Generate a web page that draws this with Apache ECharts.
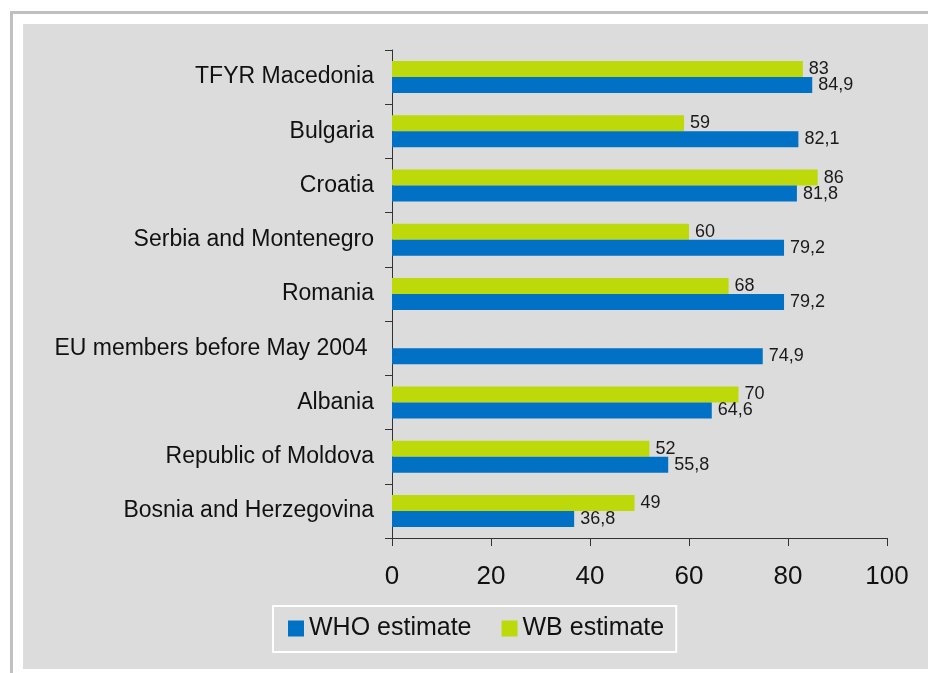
<!DOCTYPE html>
<html>
<head>
<meta charset="utf-8">
<script src="https://cdn.jsdelivr.net/npm/echarts@6/dist/echarts.min.js"></script>
<style>
  html, body { margin: 0; padding: 0; background: #ffffff; }
  #chart { width: 928px; height: 673px; }
</style>
</head>
<body>
<div id="chart"></div>
<script>
// Categories listed bottom to top (category axis starts at the bottom)
const countries = [
  'Bosnia and Herzegovina',
  'Republic of Moldova',
  'Albania',
  'EU members before May 2004 ',
  'Romania',
  'Serbia and Montenegro',
  'Croatia',
  'Bulgaria',
  'TFYR Macedonia'
];
const whoEstimate = [36.8, 55.8, 64.6, 74.9, 79.2, 79.2, 81.8, 82.1, 84.9];
const wbEstimate = [49, 52, 70, null, 68, 60, 86, 59, 83];
const xTicks = { min: 0, max: 100, interval: 20 };

const BLUE = '#0071C5';
const GREEN = '#BDD90A';
const FONT = '"Liberation Sans", Arial, sans-serif';

const chart = echarts.init(document.getElementById('chart'), null, { renderer: 'canvas' });

const valueLabel = {
  show: true,
  position: 'right',
  distance: 6,
  fontFamily: FONT,
  fontSize: 18,
  color: '#1a1a1a',
  formatter: p => (p.value == null ? '' : String(p.value).replace('.', ','))
};

chart.setOption({
  backgroundColor: '#ffffff',
  animation: false,
  textStyle: { fontFamily: FONT },
  graphic: [
    // grey panel behind the chart
    { type: 'rect', z: -10, silent: true,
      shape: { x: 23, y: 24, width: 905, height: 645 },
      style: { fill: '#dcdcdc' } },
    // frame lines
    { type: 'rect', z: -10, silent: true,
      shape: { x: 10, y: 11, width: 918, height: 3 },
      style: { fill: '#c0c0c0' } },
    { type: 'rect', z: -10, silent: true,
      shape: { x: 10, y: 11, width: 3, height: 662 },
      style: { fill: '#c0c0c0' } }
  ],
  legend: {
    data: ['WHO estimate', 'WB estimate'],
    left: 273,
    top: 606,
    orient: 'horizontal',
    itemWidth: 16,
    itemHeight: 16,
    itemGap: 30,
    padding: [10, 12, 11, 15],
    borderColor: '#ffffff',
    borderWidth: 2,
    icon: 'rect',
    textStyle: { fontFamily: FONT, fontSize: 25, color: '#111111' }
  },
  grid: { left: 392, right: 41, top: 50, bottom: 135, containLabel: false },
  xAxis: {
    type: 'value',
    min: xTicks.min,
    max: xTicks.max,
    interval: xTicks.interval,
    axisLine: { show: true, lineStyle: { color: '#333333', width: 1 } },
    axisTick: { show: true, length: 8, lineStyle: { color: '#333333' } },
    splitLine: { show: false },
    axisLabel: { fontFamily: FONT, fontSize: 26, color: '#111111', margin: 26 }
  },
  yAxis: {
    type: 'category',
    data: countries,
    axisLine: { show: true, lineStyle: { color: '#333333', width: 1 } },
    axisTick: { show: true, length: 7, lineStyle: { color: '#333333' } },
    axisLabel: { fontFamily: FONT, fontSize: 23, color: '#111111', margin: 18 }
  },
  series: [
    {
      name: 'WB estimate',
      type: 'bar',
      data: wbEstimate,
      itemStyle: { color: GREEN },
      barGap: '0%',
      barCategoryGap: '41%',
      label: valueLabel
    },
    {
      name: 'WHO estimate',
      type: 'bar',
      data: whoEstimate,
      itemStyle: { color: BLUE },
      barGap: '0%',
      barCategoryGap: '41%',
      label: valueLabel
    }
  ]
});
</script>
</body>
</html>
